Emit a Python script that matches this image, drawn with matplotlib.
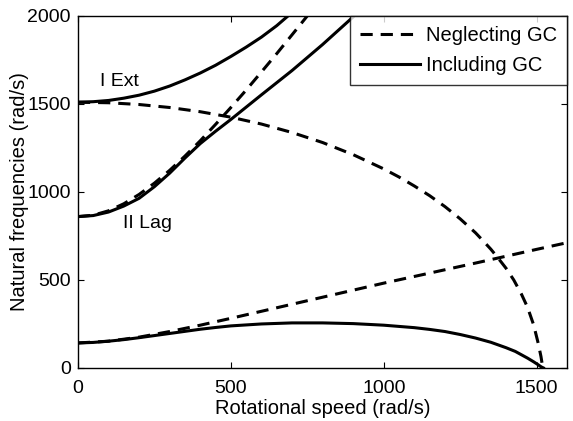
"""Natural frequencies vs rotational speed, with and without gyroscopic coupling."""

import matplotlib.pyplot as plt

plt.rcParams['font.family'] = ['Liberation Sans', 'DejaVu Sans']

# --- neglecting GC (dashed) ---
ext_neg_speed = [0, 100, 200, 300, 400, 500, 600, 700, 800, 900, 1000, 1050,
                 1100, 1150, 1200, 1250, 1300, 1325, 1350, 1375, 1400, 1425,
                 1450, 1470, 1490, 1505, 1514, 1520]
ext_neg_freq = [1510, 1507, 1497, 1480, 1456, 1425, 1386, 1338, 1281, 1212,
                1131, 1085, 1034, 979, 917, 847, 768, 722, 675, 622, 566, 500,
                420, 345, 245, 140, 65, 0]

lag2_neg_speed = [0, 50, 100, 150, 200, 250, 300, 350, 400, 450, 500, 550,
                  600, 650, 700, 760]
lag2_neg_freq = [860, 868, 893, 933, 986, 1050, 1123, 1204, 1291, 1384, 1480,
                 1579, 1682, 1786, 1893, 2022]

lag1_neg_speed = [0, 100, 200, 300, 400, 500, 600, 700, 800, 900, 1000,
                  1100, 1200, 1300, 1400, 1500, 1600]
lag1_neg_freq = [142, 152, 175, 207, 243, 282, 322, 362, 402, 442, 482,
                 520, 558, 596, 635, 674, 712]

# --- including GC (solid) ---
ext_inc_speed = [0, 50, 100, 150, 200, 250, 300, 350, 400, 450, 500, 550,
                 600, 650, 700]
ext_inc_freq = [1510, 1513, 1520, 1533, 1550, 1573, 1602, 1637, 1676, 1720,
                1770, 1823, 1880, 1945, 2020]

lag2_inc_speed = [0, 50, 100, 150, 200, 250, 300, 350, 400, 450, 500, 600,
                  700, 800, 900, 950]
lag2_inc_freq = [860, 866, 886, 920, 964, 1030, 1107, 1193, 1275, 1345, 1412,
                 1552, 1690, 1838, 1995, 2075]

lag1_inc_speed = [0, 50, 100, 150, 200, 250, 300, 350, 400, 450, 500, 600,
                  700, 800, 900, 1000, 1100, 1150, 1200, 1250, 1300, 1350,
                  1400, 1430, 1450, 1470, 1490, 1505, 1515, 1522]
lag1_inc_freq = [142, 145, 152, 161, 172, 184, 196, 208, 220, 230, 239, 250,
                 256, 256, 252, 243, 229, 219, 207, 190, 170, 146, 115, 94,
                 75, 56, 35, 18, 6, 0]

fig = plt.figure(figsize=(5.73, 4.21), dpi=100)
ax = fig.add_axes([0.136, 0.126, 0.854, 0.836])

dash = (0, (4, 2.6))
lw = 2.2
ax.plot(ext_neg_speed, ext_neg_freq, color='k', lw=lw, ls=dash,
        label='Neglecting GC')
ax.plot(lag2_neg_speed, lag2_neg_freq, color='k', lw=lw, ls=dash)
ax.plot(lag1_neg_speed, lag1_neg_freq, color='k', lw=lw, ls=dash)

ax.plot(ext_inc_speed, ext_inc_freq, color='k', lw=lw, label='Including GC')
ax.plot(lag2_inc_speed, lag2_inc_freq, color='k', lw=lw)
ax.plot(lag1_inc_speed, lag1_inc_freq, color='k', lw=lw)

ax.text(72, 1625, 'I Ext', fontsize=14, va='center', ha='left')
ax.text(147, 820, 'II Lag', fontsize=14, va='center', ha='left')

ax.set_xlim(0, 1600)
ax.set_ylim(0, 2000)
ax.set_xticks([0, 500, 1000, 1500])
ax.set_yticks([0, 500, 1000, 1500, 2000])
ax.tick_params(direction='in', length=4, top=True, right=True,
               labelsize=14, width=0.8)
ax.tick_params(axis='x', pad=9)
ax.tick_params(axis='y', pad=5)
ax.set_xlabel('Rotational speed (rad/s)', fontsize=14.5, labelpad=1)
ax.set_ylabel('Natural frequencies (rad/s)', fontsize=14.5, labelpad=-1)
for s in ax.spines.values():
    s.set_linewidth(1.0)

leg = ax.legend(loc='upper right', borderaxespad=0, fontsize=14.5,
                frameon=True, fancybox=False, edgecolor='k',
                handlelength=3.0, handletextpad=0.3, borderpad=0.5,
                labelspacing=0.55)
leg.get_frame().set_linewidth(1.0)

fig.savefig('out.png', dpi=100)
